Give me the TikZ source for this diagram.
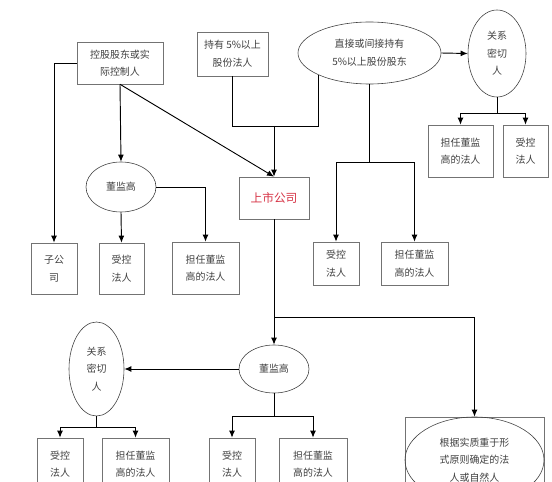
\documentclass[tikz,border=0pt]{standalone}
\usepackage{fontspec}
\newfontfamily\cjk{Noto Sans CJK SC}
\usetikzlibrary{shapes.geometric, arrows.meta}
\begin{document}
\begin{tikzpicture}[x=0.03cm, y=-0.03cm, >={Latex[length=6pt,width=5pt]}, line width=0.8pt,
    box/.style={draw=black!55, line width=0.5pt, rectangle, inner sep=1pt, align=center, text=black!75, font=\cjk\fontsize{8.5}{15}\selectfont},
    oval/.style={box, ellipse, draw=black!75, inner sep=0pt}]
    \useasboundingbox (0,0) rectangle (552,482);
    \clip (0,0) rectangle (552,482);
    % top row
    \node[box, minimum width=2.58cm, minimum height=1.26cm] (ctrl) at (120,63) {控股股东或实\\际控制人};
    \node[box, minimum width=2.13cm, minimum height=1.32cm] (hold) at (232.5,54) {持有 5\%以上\\股份法人};
    \node[oval, minimum width=4.29cm, minimum height=1.86cm] (share) at (369.5,53) {直接或间接持有\\5\%以上股份股东};
    \node[oval, minimum width=1.74cm, minimum height=2.61cm] (rel1) at (497,53.5) {关系\\密切\\人};
    \node[box, minimum width=1.95cm, minimum height=1.56cm] (rel1a) at (460.5,151) {担任董监\\高的法人};
    \node[box, minimum width=1.35cm, minimum height=1.56cm] (rel1b) at (525.5,151) {受控\\法人};
    % middle
    \node[oval, minimum width=2.1cm, minimum height=1.5cm] (dir1) at (121,187) {董监高};
    \node[box, minimum width=2.1cm, minimum height=1.26cm, text={rgb,255:red,214;green,52;blue,70}, font=\cjk\fontsize{10}{12}\selectfont] (co) at (274,198) {上市公司};
    \node[box, minimum width=1.38cm, minimum height=1.53cm] (sub) at (54,268.5) {子公\\司};
    \node[box, minimum width=1.35cm, minimum height=1.53cm] (dir1a) at (121.5,268.5) {受控\\法人};
    \node[box, minimum width=2.01cm, minimum height=1.56cm] (dir1b) at (205.5,268) {担任董监\\高的法人};
    \node[box, minimum width=1.38cm, minimum height=1.29cm] (share1a) at (336,263.5) {受控\\法人};
    \node[box, minimum width=2.01cm, minimum height=1.29cm] (share1b) at (414.5,263.5) {担任董监\\高的法人};
    % bottom
    \node[oval, minimum width=2.1cm, minimum height=1.44cm] (dir2) at (274,369) {董监高};
    \node[oval, minimum width=1.65cm, minimum height=2.82cm] (rel2) at (96.5,369) {关系\\密切\\人};
    \node[box, minimum width=1.38cm, minimum height=1.56cm] (rel2a) at (60,464) {受控\\法人};
    \node[box, minimum width=2.01cm, minimum height=1.56cm] (rel2b) at (135.5,464) {担任董监\\高的法人};
    \node[box, minimum width=1.38cm, minimum height=1.56cm] (dir2a) at (232,464) {受控\\法人};
    \node[box, minimum width=2.04cm, minimum height=1.56cm] (dir2b) at (313,464) {担任董监\\高的法人};
    \node[box, minimum width=4.17cm, minimum height=2.58cm] (formbox) at (474.5,460) {};
    \node[oval, minimum width=4.17cm, minimum height=2.58cm] (form) at (474.5,460) {根据实质重于形\\式原则确定的法\\人或自然人};
    % connectors
    \coordinate (j1) at (274,126);
    \coordinate (j2) at (369.5,162);
    \coordinate (j3) at (497,113);
    \coordinate (j4) at (274,317);
    \coordinate (j5) at (96.5,427);
    \coordinate (j6) at (274,416);
    \draw[->] (ctrl.west) -| (sub.north);
    \draw[->] (ctrl.south) -- (dir1.north);
    \draw[->] (ctrl.south) -- (co.north);
    \draw (hold.south) |- (j1);
    \draw (share.south west) |- (j1);
    \draw[->] (j1) -- (co.north);
    \draw (share.south) -- (j2);
    \draw[->] (j2) -| (share1a.north);
    \draw[->] (j2) -| (share1b.north);
    \draw[->] (share.east) -- (rel1.west);
    \draw (rel1.south) -- (j3);
    \draw[->] (j3) -| (rel1a.north);
    \draw[->] (j3) -| (rel1b.north);
    \draw[->] (dir1.south) -- (dir1a.north);
    \draw[->] (dir1.east) -| (dir1b.north);
    \draw[->] (co.south) -- (dir2.north);
    \draw[->] (j4) -| (formbox.north);
    \draw[->] (dir2.west) -- (rel2.east);
    \draw (rel2.south) -- (j5);
    \draw[->] (j5) -| (rel2a.north);
    \draw[->] (j5) -| (rel2b.north);
    \draw (dir2.south) -- (j6);
    \draw[->] (j6) -| (dir2a.north);
    \draw[->] (j6) -| (dir2b.north);
\end{tikzpicture}
\end{document}
